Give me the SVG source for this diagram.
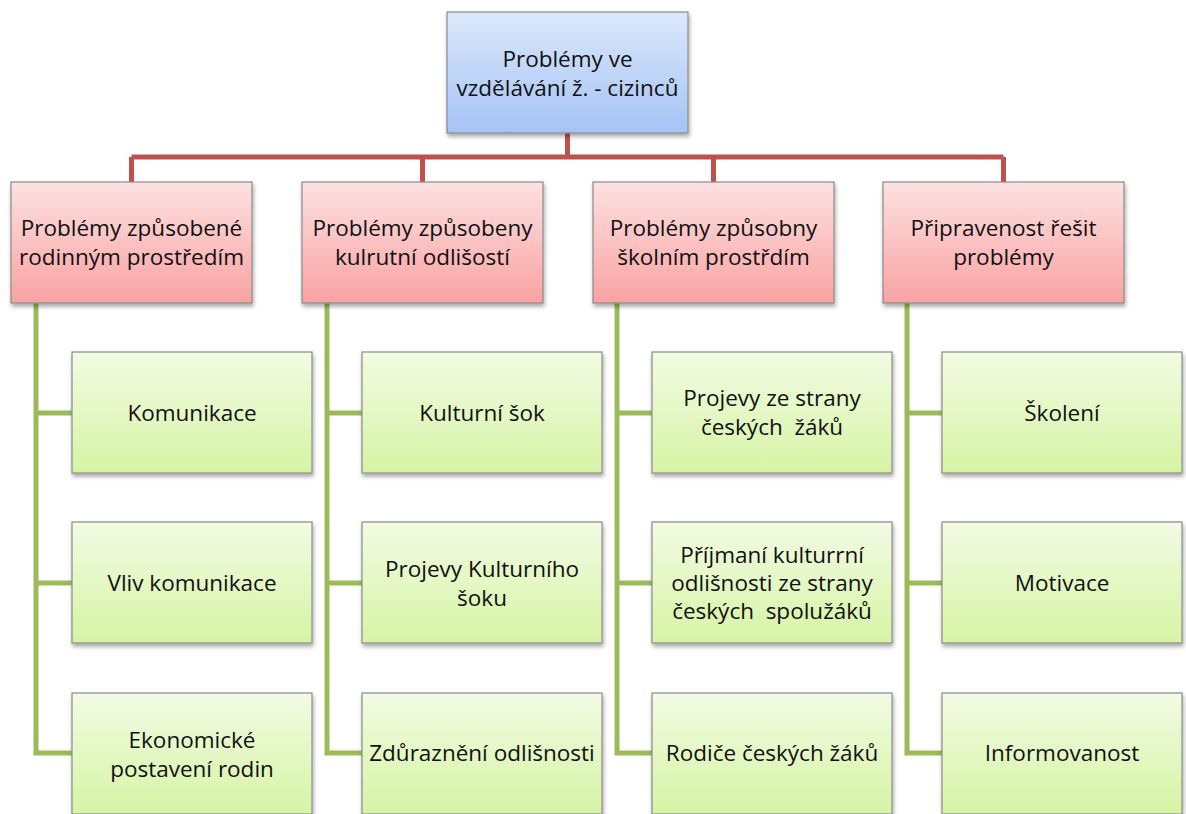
<svg xmlns="http://www.w3.org/2000/svg" width="1186" height="814" viewBox="0 0 1186 814">
<defs>
<linearGradient id="gBlue" x1="0" y1="0" x2="0" y2="1"><stop offset="0" stop-color="#dde8fb"/><stop offset="1" stop-color="#a4c3f5"/></linearGradient>
<linearGradient id="gRed" x1="0" y1="0" x2="0" y2="1"><stop offset="0" stop-color="#fde1e1"/><stop offset="1" stop-color="#f9a2a2"/></linearGradient>
<linearGradient id="gGreen" x1="0" y1="0" x2="0" y2="1"><stop offset="0" stop-color="#f2fbe4"/><stop offset="1" stop-color="#d6f4a4"/></linearGradient>
<filter id="sh" x="-10%" y="-10%" width="125%" height="130%"><feDropShadow dx="1" dy="3" stdDeviation="2" flood-color="#000" flood-opacity="0.35"/></filter>
<style>
.box{stroke:#8a8a8a;stroke-width:1.2;filter:url(#sh)}
.b{fill:url(#gBlue)}
.r{fill:url(#gRed)}
.g{fill:url(#gGreen)}
text{font-family:"Open Sans","Noto Sans",sans-serif;font-size:22.5px;fill:#111;text-anchor:middle;white-space:pre}
.cr{fill:none;stroke:#c0504d;stroke-width:5}
.cg{fill:none;stroke:#9bbb59;stroke-width:5}
</style>
</defs>
<g id="connectors">
<path class="cr" d="M567.5 133V157M131.5 157H1003.5M131.5 157V182M422.5 157V182M713.5 157V182M1003.5 157V182"/>
<path class="cg" d="M36 303V753H72M36 413H72M36 583H72"/>
<path class="cg" d="M327 303V753H362M327 413H362M327 583H362"/>
<path class="cg" d="M617 303V753H652M617 413H652M617 583H652"/>
<path class="cg" d="M907 303V753H942M907 413H942M907 583H942"/>
</g>
<g id="root"><rect class="box b" x="447" y="12" width="241" height="121"/><text x="567.5" y="67">Problémy ve</text><text x="567.5" y="96">vzdělávání ž. - cizinců</text></g>
<g id="p1"><rect class="box r" x="11" y="182" width="241" height="121"/><text x="131.5" y="236">Problémy způsobené</text><text x="131.5" y="265">rodinným prostředím</text></g>
<g id="p2"><rect class="box r" x="302" y="182" width="241" height="121"/><text x="422.5" y="236">Problémy způsobeny</text><text x="422.5" y="265">kulrutní odlišostí</text></g>
<g id="p3"><rect class="box r" x="593" y="182" width="241" height="121"/><text x="713.5" y="236">Problémy způsobny</text><text x="713.5" y="265">školním prostřdím</text></g>
<g id="p4"><rect class="box r" x="883" y="182" width="241" height="121"/><text x="1003.5" y="236">Připravenost řešit</text><text x="1003.5" y="265">problémy</text></g>
<g id="c11"><rect class="box g" x="72" y="352" width="240" height="121"/><text x="192" y="421">Komunikace</text></g>
<g id="c12"><rect class="box g" x="72" y="522" width="240" height="121"/><text x="192" y="591">Vliv komunikace</text></g>
<g id="c13"><rect class="box g" x="72" y="693" width="240" height="121"/><text x="192" y="748">Ekonomické</text><text x="192" y="777">postavení rodin</text></g>
<g id="c21"><rect class="box g" x="362" y="352" width="240" height="121"/><text x="482" y="421">Kulturní šok</text></g>
<g id="c22"><rect class="box g" x="362" y="522" width="240" height="121"/><text x="482" y="577">Projevy Kulturního</text><text x="482" y="606">šoku</text></g>
<g id="c23"><rect class="box g" x="362" y="693" width="240" height="121"/><text x="482" y="761">Zdůraznění odlišnosti</text></g>
<g id="c31"><rect class="box g" x="652" y="352" width="240" height="121"/><text x="772" y="406">Projevy ze strany</text><text x="772" y="435">českých  žáků</text></g>
<g id="c32"><rect class="box g" x="652" y="522" width="240" height="121"/><text x="772" y="563">Příjmaní kulturrní</text><text x="772" y="591">odlišnosti ze strany</text><text x="772" y="619">českých  spolužáků</text></g>
<g id="c33"><rect class="box g" x="652" y="693" width="240" height="121"/><text x="772" y="761">Rodiče českých žáků</text></g>
<g id="c41"><rect class="box g" x="942" y="352" width="240" height="121"/><text x="1062" y="421">Školení</text></g>
<g id="c42"><rect class="box g" x="942" y="522" width="240" height="121"/><text x="1062" y="591">Motivace</text></g>
<g id="c43"><rect class="box g" x="942" y="693" width="240" height="121"/><text x="1062" y="761">Informovanost</text></g>
</svg>
